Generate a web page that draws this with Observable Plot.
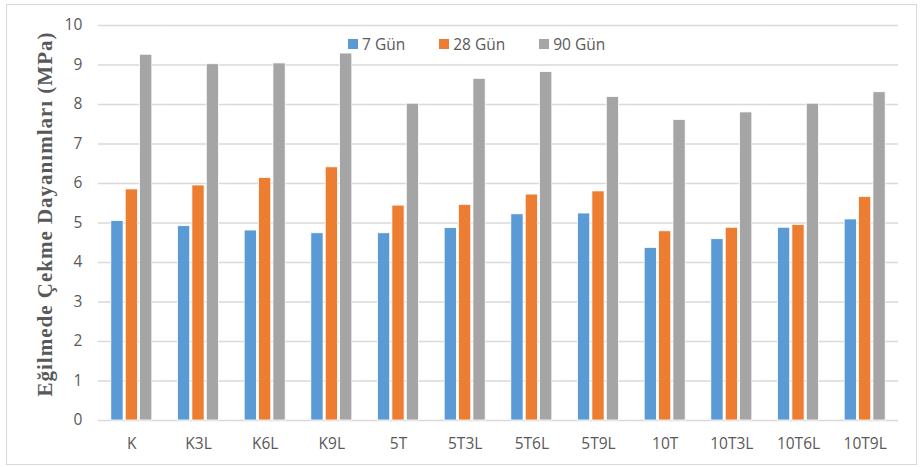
<!DOCTYPE html>
<html>
<head>
<meta charset="utf-8">
<script src="https://cdn.jsdelivr.net/npm/d3@7"></script>
<script src="https://cdn.jsdelivr.net/npm/@observablehq/plot@0.6"></script>
<style>
  html, body { margin: 0; padding: 0; background: #fff; }
  #wrap { position: relative; width: 922px; height: 467px; overflow: hidden; font-family: "Open Sans", sans-serif; }
  #border { position: absolute; left: 6px; top: 4px; width: 909px; height: 459px; border: 1.5px solid #d9d9d9; }
  #chart { position: absolute; left: 0; top: 0; }
  #ytitle { position: absolute; left: 45px; top: 214px; transform: translate(-50%, -50%) rotate(-90deg);
    white-space: nowrap; font-family: "Liberation Serif", "Times New Roman", serif; font-weight: bold;
    font-size: 21px; letter-spacing: 1px; color: #595959; }
  #legend { position: absolute; left: 348px; top: 33px; display: flex; gap: 34px; font-size: 15.5px; color: #595959; }
  #legend .item { display: flex; align-items: center; }
  #legend .sw { width: 10px; height: 10px; margin-right: 4px; }
</style>
</head>
<body>
<div id="wrap">
  <div id="border"></div>
  <div id="chart"></div>
  <div id="ytitle">Eğilmede Çekme Dayanımları (MPa)</div>
  <div id="legend"></div>
</div>
<script>
const categories = ["K","K3L","K6L","K9L","5T","5T3L","5T6L","5T9L","10T","10T3L","10T6L","10T9L"];
const series = ["7 Gün", "28 Gün", "90 Gün"];
const colors = ["#5B9BD5", "#ED7D31", "#A5A5A5"];
const gun7  = [5.05, 4.92, 4.81, 4.74, 4.74, 4.87, 5.22, 5.24, 4.37, 4.59, 4.88, 5.09];
const gun28 = [5.85, 5.95, 6.14, 6.41, 5.44, 5.46, 5.72, 5.80, 4.79, 4.88, 4.95, 5.66];
const gun90 = [9.26, 9.02, 9.04, 9.29, 8.02, 8.65, 8.82, 8.19, 7.61, 7.80, 8.02, 8.31];
const yTicks = [0,1,2,3,4,5,6,7,8,9,10];

const seriesValues = [gun7, gun28, gun90];
const data = [];
categories.forEach((c, i) => {
  series.forEach((s, j) => data.push({cat: c, series: s, value: seriesValues[j][i]}));
});

const chart = Plot.plot({
  width: 922,
  height: 467,
  marginLeft: 98,
  marginRight: 24,
  marginTop: 25,
  marginBottom: 47,
  style: {fontFamily: "Open Sans", fontSize: "15.5px", color: "#595959", background: "transparent", overflow: "visible"},
  fx: {domain: categories, paddingInner: 0.385, paddingOuter: 0.1925, round: false, label: null, tickSize: 0, tickPadding: 17},
  x: {domain: series, paddingInner: 0.15, paddingOuter: 0, round: false, axis: null},
  y: {domain: [0, 10], ticks: yTicks, tickSize: 0, tickPadding: 29, label: null},
  color: {domain: series, range: colors},
  marks: [
    Plot.ruleY(yTicks, {stroke: "#d9d9d9", strokeWidth: 1.5, insetLeft: -12.9, insetRight: -12.9}),
    Plot.barY(data, {fx: "cat", x: "series", y: "value", fill: "series", stroke: "white", strokeWidth: 0.8})
  ]
});
document.getElementById("chart").appendChild(chart);

const legend = document.getElementById("legend");
series.forEach((s, j) => {
  const item = document.createElement("div");
  item.className = "item";
  const sw = document.createElement("span");
  sw.className = "sw";
  sw.style.background = colors[j];
  const t = document.createElement("span");
  t.textContent = s;
  item.appendChild(sw);
  item.appendChild(t);
  legend.appendChild(item);
});
</script>
</body>
</html>
